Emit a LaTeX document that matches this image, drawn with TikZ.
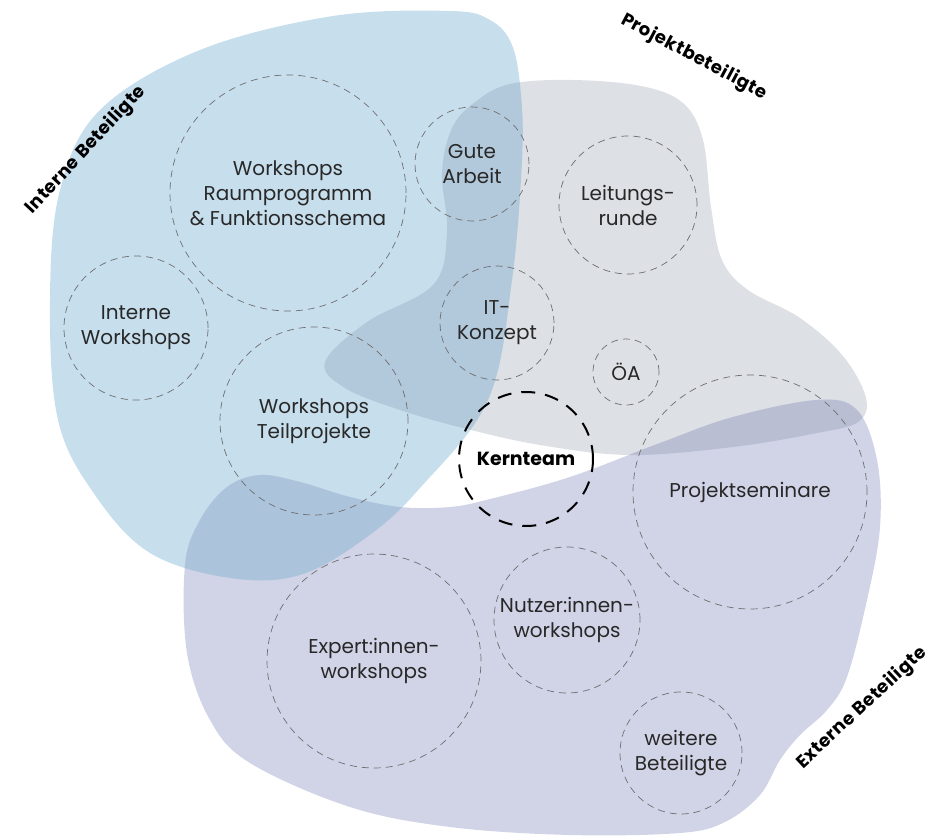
\documentclass[tikz,border=0pt]{standalone}
\usepackage{fontspec}
\setmainfont{Poppins}
\definecolor{InternBlue}{RGB}{199,222,237}
\definecolor{ProjGrey}{RGB}{221,224,228}
\definecolor{ExternLila}{RGB}{209,212,231}
\definecolor{InternProj}{RGB}{178,200,219}
\definecolor{InternExtern}{RGB}{172,195,220}
\definecolor{ProjExtern}{RGB}{186,190,211}
\definecolor{DashGrey}{RGB}{110,110,110}
\definecolor{TextGrey}{RGB}{40,40,40}
\def\blobIntern{plot[smooth cycle, tension=.6] coordinates {(450,11) (490,20) (512,45) (521,95) (522,160) (512,280) (488,400) (420,488) (367,537) (300,575) (230,578) (150,553) (95,495) (58,420) (50,300) (60,190) (100,110) (200,50) (333,16)}}
\def\blobProj{plot[smooth cycle, tension=.6] coordinates {(325,362) (367,322) (433,285) (447,233) (442,173) (452,128) (475,102) (510,84) (572,80) (641,86) (683,103) (703,140) (711,207) (722,260) (748,290) (800,318) (843,356) (866,398) (858,422) (817,433) (733,447) (630,455) (540,445) (463,428) (400,410) (345,388)}}
\def\blobExtern{plot[smooth cycle, tension=.6] coordinates {(185,565) (200,520) (227,487) (260,475) (300,482) (350,497) (400,507) (450,507) (490,499) (570,477) (660,443) (733,417) (817,400) (857,410) (877,460) (880,527) (867,600) (847,677) (827,710) (800,735) (780,760) (760,795) (725,822) (680,833) (570,835) (450,827) (350,807) (250,763) (210,720) (187,653)}}

\begin{document}
\begin{tikzpicture}
    [x=1pt, y=-1pt,
    grp/.style={circle, draw=DashGrey, line width=0.7pt, dash pattern=on 7pt off 5pt, align=center,
      inner sep=0pt, text=TextGrey, font=\fontsize{20}{25}\selectfont},
    core/.style={circle, draw=black, line width=2pt, dash pattern=on 14pt off 10pt, inner sep=0pt,
      font=\fontsize{19}{23}\selectfont\bfseries},
    lbl/.style={font=\fontsize{18}{24}\selectfont\bfseries\addfontfeatures{LetterSpace=3}, inner sep=0pt},
    ]
    \useasboundingbox (0,0) rectangle (938,837);
    % Flaechen
    \fill[InternBlue] \blobIntern;
    \fill[ProjGrey] \blobProj;
    \fill[ExternLila] \blobExtern;
    \begin{scope}
      \clip \blobIntern;
      \fill[InternProj] \blobProj;
      \fill[InternExtern] \blobExtern;
    \end{scope}
    \begin{scope}
      \clip \blobProj;
      \fill[ProjExtern] \blobExtern;
    \end{scope}
    % Formate
    \node[grp, minimum size=236pt] (raum) at (288,193) {Workshops\\Raumprogramm\\\& Funktionsschema};
    \node[grp, minimum size=144pt] (intws) at (136,328) {Interne\\Workshops};
    \node[grp, minimum size=188pt] (teil) at (314,421) {Workshops\\Teilprojekte};
    \node[grp, minimum size=114pt] (gute) at (472,164) {Gute\\Arbeit};
    \node[grp, minimum size=138pt] (leit) at (628,205) {Leitungs-\\runde};
    \node[grp, minimum size=114pt] (it) at (497,323) {IT-\\Konzept};
    \node[grp, minimum size=66pt] (oea) at (626,372) {ÖA};
    \node[core, minimum size=134pt] (kern) at (526,459) {Kernteam};
    \node[grp, minimum size=234pt] (seminar) at (750,492) {Projektseminare};
    \node[grp, minimum size=214pt] (expert) at (374,661) {Expert:innen-\\workshops};
    \node[grp, minimum size=146pt] (nutzer) at (567,620) {Nutzer:innen-\\workshops};
    \node[grp, minimum size=122pt] (weitere) at (681,753) {weitere\\Beteiligte};
    % Gruppen
    \node[lbl, rotate=47] (intern) at (86,150) {Interne Beteiligte};
    \node[lbl, rotate=-28] (projekt) at (694,57) {Projektbeteiligte};
    \node[lbl, rotate=43] (extern) at (862,708) {Externe Beteiligte};
  \end{tikzpicture}
\end{document}
